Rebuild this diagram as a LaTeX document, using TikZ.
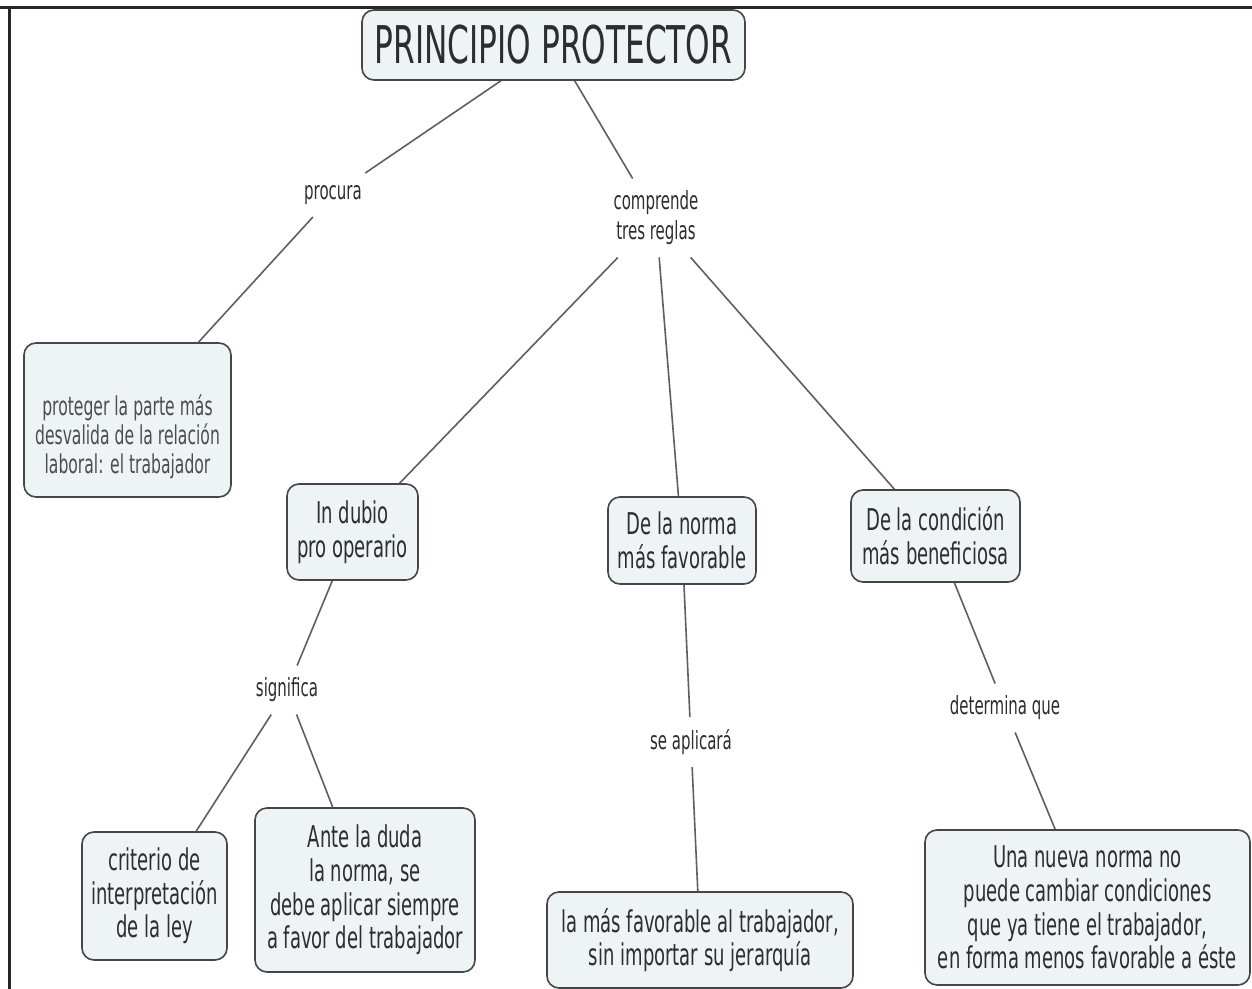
\documentclass[tikz,border=0pt]{standalone}
\usepackage{fontspec}
\setmainfont{DejaVu Sans}[FakeStretch=0.6]
\usetikzlibrary{positioning}
\definecolor{cmfill}{RGB}{238,243,246}
\definecolor{cmedge}{RGB}{70,70,70}
\definecolor{cmtext}{RGB}{45,45,45}
\definecolor{cmline}{RGB}{95,95,95}
\tikzset{
	conceptbox/.style={draw=cmedge, line width=0.8pt, fill=cmfill, rounded corners=6pt,
		align=center, text=cmtext, inner sep=2pt, font=\fontsize{15}{16.8}\selectfont},
	linklabel/.style={align=center, text=cmtext, inner sep=6pt, font=\fontsize{12.5}{15}\selectfont},
	linkline/.style={draw=cmline, line width=0.8pt}
}

\begin{document}
\begin{tikzpicture}[x=0.5pt,y=-0.5pt]
				\useasboundingbox (0,0) rectangle (1252,989);
				\fill[white] (0,0) rectangle (1252,989);
				\draw[line width=1.5pt,black!85] (0,8) -- (1252,8);
				\draw[line width=1.5pt,black!85] (9.5,8) -- (9.5,989);
				% concepts
				\node[conceptbox, minimum width=191.5pt, minimum height=35pt, font=\fontsize{26}{28}\selectfont] (title) at (553.5,45) {PRINCIPIO PROTECTOR};
				\node[conceptbox, minimum width=103.5pt, minimum height=77pt] (protege) at (127.5,420) {};
				\node[align=center, text=cmtext!85, font=\fontsize{13}{14.5}\selectfont] (protegetext) at (127.5,437) {proteger la parte más\\desvalida de la relación\\laboral: el trabajador};
				\node[conceptbox, minimum width=65.5pt, minimum height=48pt] (dubio) at (352.5,532) {In dubio\\pro operario};
				\node[conceptbox, minimum width=74pt, minimum height=43.5pt] (norma) at (682,540.5) {De la norma\\más favorable};
				\node[conceptbox, minimum width=84.5pt, minimum height=46pt] (condicion) at (935.5,536) {De la condición\\más beneficiosa};
				\node[conceptbox, minimum width=72.5pt, minimum height=64pt] (criterio) at (154.5,896) {criterio de\\interpretación\\de la ley};
				\node[conceptbox, minimum width=110pt, minimum height=82pt] (ante) at (365,890) {Ante la duda\\la norma, se\\debe aplicar siempre\\a favor del trabajador};
				\node[conceptbox, minimum width=153pt, minimum height=48pt] (masfav) at (700,940) {la más favorable al trabajador,\\sin importar su jerarquía};
				\node[conceptbox, minimum width=162.5pt, minimum height=77.5pt] (nueva) at (1087.5,907.5) {Una nueva norma no\\puede cambiar condiciones\\que ya tiene el trabajador,\\en forma menos favorable a éste};
				% link labels
				\node[linklabel] (procura) at (333,195) {procura};
				\node[linklabel] (comprende) at (656,218) {comprende\\tres reglas};
				\node[linklabel] (significa) at (287,690) {significa};
				\node[linklabel] (aplicara) at (691,742) {se aplicará};
				\node[linklabel] (determina) at (1005,708) {determina que};
				% connectors
				\draw[linkline] (title) -- (procura);
				\draw[linkline] (procura) -- (protege);
				\draw[linkline] (title) -- (comprende);
				\draw[linkline] (comprende) -- (dubio);
				\draw[linkline] (comprende) -- (norma);
				\draw[linkline] (comprende) -- (condicion);
				\draw[linkline] (dubio) -- (significa);
				\draw[linkline] (significa) -- (criterio);
				\draw[linkline] (significa) -- (ante);
				\draw[linkline] (norma) -- (aplicara);
				\draw[linkline] (aplicara) -- (masfav);
				\draw[linkline] (condicion) -- (determina);
				\draw[linkline] (determina) -- (nueva);
			\end{tikzpicture}
\end{document}
